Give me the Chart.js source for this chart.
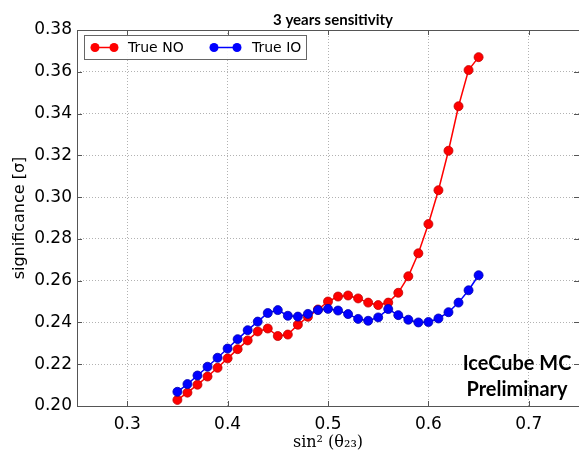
<!DOCTYPE html>
<html>
<head>
<meta charset="utf-8">
<script src="https://cdn.jsdelivr.net/npm/chart.js@4/dist/chart.umd.min.js"></script>
<style>
  html, body { margin: 0; padding: 0; background: #fff; overflow: hidden; }
  canvas { display: block; }
</style>
</head>
<body>
<canvas id="c" width="579" height="456" style="width:579px;height:456px"></canvas>
<script>
// ---- data ----
const sin2theta = [0.35, 0.36, 0.37, 0.38, 0.39, 0.40, 0.41, 0.42, 0.43, 0.44,
                   0.45, 0.46, 0.47, 0.48, 0.49, 0.50, 0.51, 0.52, 0.53, 0.54,
                   0.55, 0.56, 0.57, 0.58, 0.59, 0.60, 0.61, 0.62, 0.63, 0.64, 0.65];
const trueNO = [0.2029, 0.2064, 0.2102, 0.2141, 0.2183, 0.2228, 0.2272, 0.2314, 0.2357, 0.2371,
                0.2335, 0.2342, 0.2389, 0.2427, 0.2462, 0.2500, 0.2524, 0.2529, 0.2515, 0.2495,
                0.2483, 0.2495, 0.2542, 0.2621, 0.2731, 0.2871, 0.3033, 0.3222, 0.3435, 0.3608, 0.3670];
const trueIO = [0.2068, 0.2105, 0.2146, 0.2188, 0.2231, 0.2275, 0.2320, 0.2363, 0.2404, 0.2445,
                0.2459, 0.2432, 0.2428, 0.2441, 0.2459, 0.2465, 0.2457, 0.2440, 0.2417, 0.2408,
                0.2424, 0.2464, 0.2435, 0.2413, 0.2400, 0.2402, 0.2419, 0.2449, 0.2495, 0.2554, 0.2626];
const xTicks = [0.3, 0.4, 0.5, 0.6, 0.7];
const yTicks = [0.20, 0.22, 0.24, 0.26, 0.28, 0.30, 0.32, 0.34, 0.36, 0.38];
const seriesLabels = ['True NO', 'True IO'];
const chartTitle = '3 years sensitivity';
const xTitle = 'sin\u00B2 (\u03B8\u2082\u2083)';
const yTitle = 'significance [\u03C3]';
const watermark = ['IceCube MC', 'Preliminary'];

const RED = '#ff0000', BLUE = '#0000ff';

function fitFont(ctx, text, weight, family, targetWidth) {
  ctx.font = weight + ' 100px ' + family;
  const w = ctx.measureText(text).width;
  return weight + ' ' + (100 * targetWidth / w).toFixed(2) + 'px ' + family;
}

const decorPlugin = {
  id: 'decor',
  afterDatasetsDraw(chart) {
    const ctx = chart.ctx;
    const a = chart.chartArea;
    const xs = chart.scales.x, ys = chart.scales.y;
    ctx.save();
    // frame
    ctx.strokeStyle = '#555';
    ctx.lineWidth = 1;
    ctx.strokeRect(Math.round(a.left) + 0.5, Math.round(a.top) + 0.5,
                   Math.round(a.right - a.left), Math.round(a.bottom - a.top));
    // inward tick marks
    ctx.beginPath();
    xTicks.forEach(v => {
      const px = Math.round(xs.getPixelForValue(v)) + 0.5;
      ctx.moveTo(px, a.bottom); ctx.lineTo(px, a.bottom - 5);
      ctx.moveTo(px, a.top); ctx.lineTo(px, a.top + 5);
    });
    yTicks.forEach(v => {
      const py = Math.round(ys.getPixelForValue(v)) + 0.5;
      ctx.moveTo(a.left, py); ctx.lineTo(a.left + 5, py);
      ctx.moveTo(a.right, py); ctx.lineTo(a.right - 5, py);
    });
    ctx.stroke();

    // title
    ctx.fillStyle = '#000';
    ctx.font = fitFont(ctx, chartTitle, 'bold', 'Lato', 120);
    ctx.textAlign = 'center';
    ctx.textBaseline = 'alphabetic';
    ctx.fillText(chartTitle, 333, 25);

    // watermark
    ctx.font = fitFont(ctx, watermark[1], 'bold', 'Lato', 101);
    ctx.fillText(watermark[0], 517, 370);
    ctx.fillText(watermark[1], 517, 396);

    // legend
    const lx = 84.5, ly = 35.5, lw = 222, lh = 24;
    ctx.fillStyle = 'rgba(255,255,255,0.9)';
    ctx.fillRect(lx, ly, lw, lh);
    ctx.strokeStyle = '#666';
    ctx.lineWidth = 1;
    ctx.strokeRect(lx, ly, lw, lh);
    const items = [
      { x0: 95, x1: 114, tx: 128, ds: chart.data.datasets[0] },
      { x0: 214, x1: 237, tx: 252, ds: chart.data.datasets[1] }
    ];
    ctx.font = '14px "DejaVu Sans"';
    ctx.textAlign = 'left';
    ctx.textBaseline = 'middle';
    items.forEach(it => {
      const cy = 47.5;
      ctx.strokeStyle = it.ds.borderColor;
      ctx.lineWidth = 1.5;
      ctx.beginPath(); ctx.moveTo(it.x0, cy); ctx.lineTo(it.x1, cy); ctx.stroke();
      ctx.fillStyle = it.ds.pointBackgroundColor;
      [it.x0, it.x1].forEach(px => {
        ctx.beginPath(); ctx.arc(px, cy, 4.5, 0, Math.PI * 2); ctx.fill();
      });
      ctx.fillStyle = '#000';
      ctx.fillText(it.ds.label, it.tx, cy + 1);
    });
    ctx.restore();
  }
};

const toPts = ys => sin2theta.map((x, i) => ({ x: x, y: ys[i] }));

new Chart(document.getElementById('c'), {
  type: 'line',
  data: {
    datasets: [
      { label: seriesLabels[0], data: toPts(trueNO), borderColor: RED, backgroundColor: RED,
        pointBackgroundColor: RED, pointBorderColor: '#c00000', pointBorderWidth: 0.8,
        pointRadius: 4.5, borderWidth: 1.5, tension: 0, order: 2 },
      { label: seriesLabels[1], data: toPts(trueIO), borderColor: BLUE, backgroundColor: BLUE,
        pointBackgroundColor: BLUE, pointBorderColor: '#0000b0', pointBorderWidth: 0.8,
        pointRadius: 4.5, borderWidth: 1.5, tension: 0, order: 1 }
    ]
  },
  options: {
    responsive: false,
    animation: false,
    devicePixelRatio: 1,
    layout: { autoPadding: false, padding: { top: 30, right: -1, left: 0, bottom: 0 } },
    plugins: { legend: { display: false }, title: { display: false }, tooltip: { enabled: false } },
    scales: {
      x: {
        type: 'linear', min: 0.25, max: 0.75,
        afterBuildTicks: s => { s.ticks = xTicks.map(v => ({ value: v })); },
        afterFit: s => { s.height = 50; s.paddingRight = 0; s.paddingLeft = 0; },
        ticks: { callback: v => v.toFixed(1), color: '#000', padding: 8,
                 font: { family: '"DejaVu Sans"', size: 17 }, maxRotation: 0, autoSkip: false },
        grid: { color: 'rgba(0,0,0,0.3)', lineWidth: 1, drawTicks: false },
        border: { display: false, dash: [1, 2] },
        title: { display: true, text: xTitle, color: '#000', padding: { top: 0, bottom: 4 },
                 font: { family: '"DejaVu Serif"', size: 16 } }
      },
      y: {
        type: 'linear', min: 0.20, max: 0.38,
        afterBuildTicks: s => { s.ticks = yTicks.map(v => ({ value: v })); },
        afterFit: s => { s.width = 77; s.paddingTop = 0; s.paddingBottom = 0; },
        ticks: { callback: v => v.toFixed(2), color: '#000', padding: 5,
                 font: { family: '"DejaVu Sans"', size: 17 }, autoSkip: false },
        grid: { color: 'rgba(0,0,0,0.3)', lineWidth: 1, drawTicks: false },
        border: { display: false, dash: [1, 2] },
        title: { display: true, text: yTitle, color: '#000', padding: { top: 10, bottom: 0 },
                 font: { family: '"DejaVu Sans"', size: 16 } }
      }
    }
  },
  plugins: [decorPlugin]
});
</script>
</body>
</html>
